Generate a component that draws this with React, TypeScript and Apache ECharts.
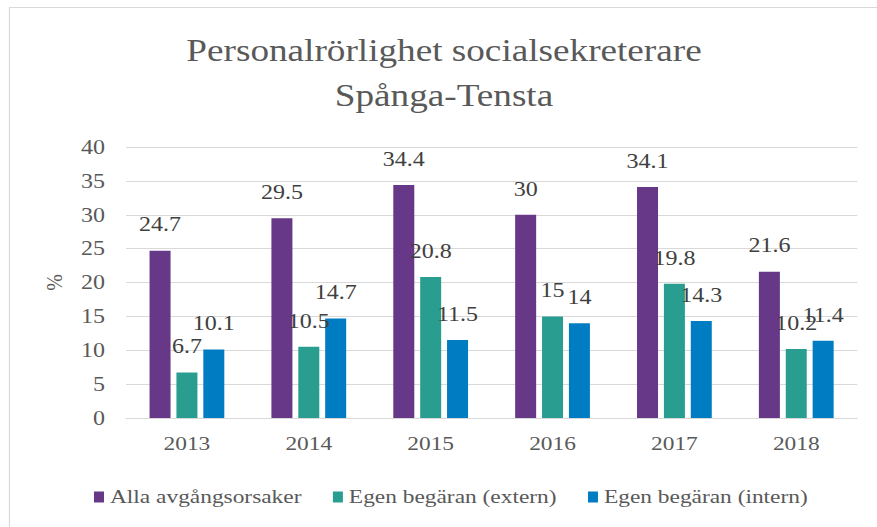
import React, { useEffect, useRef } from "react";
import * as echarts from "echarts";

const years = ["2013", "2014", "2015", "2016", "2017", "2018"];
const allaAvgang = [24.7, 29.5, 34.4, 30, 34.1, 21.6];
const egenExtern = [6.7, 10.5, 20.8, 15, 19.8, 10.2];
const egenIntern = [10.1, 14.7, 11.5, 14, 14.3, 11.4];
const seriesNames = ["Alla avgångsorsaker", "Egen begäran (extern)", "Egen begäran (intern)"];
const colors = ["#673888", "#2A9D91", "#007CC3"];
const yTicks = { min: 0, max: 40, interval: 5 };

const FONT = "Liberation Serif";
// the reference picture is horizontally stretched; reproduce with a scaleX on the chart box
const S = 1.2;
const W = 877 / S;
const H = 527;

export default function App() {
  const ref = useRef<HTMLDivElement>(null);
  useEffect(() => {
    if (!ref.current) return;
    const chart = echarts.init(ref.current, undefined, { renderer: "svg" });
    const mk = (name: string, data: number[], color: string) => ({
      name,
      type: "bar",
      data,
      barWidth: 21 / S,
      barGap: "28%",
      itemStyle: { color },
      label: {
        show: true,
        position: "top",
        distance: 16,
        fontFamily: FONT,
        fontSize: 20,
        color: "#404040",
      },
    });
    chart.setOption({
      animation: false,
      backgroundColor: "#ffffff",
      graphic: [
        {
          type: "rect",
          shape: { x: 9.5 / S, y: 7.5, width: 900, height: 600 },
          style: { fill: "none", stroke: "#D9D9D9", lineWidth: 1 },
          silent: true,
        },
        {
          type: "text",
          x: 444 / S,
          y: 28,
          style: {
            text: "Personalrörlighet socialsekreterare\nSpånga-Tensta",
            fontFamily: FONT,
            fontSize: 31,
            lineHeight: 45,
            fill: "#595959",
            align: "center",
            verticalAlign: "top",
          },
          silent: true,
        },
      ],
      legend: {
        data: seriesNames,
        left: 88 / S,
        top: 482,
        itemWidth: 10 / S,
        itemHeight: 11,
        itemGap: 26,
        icon: "rect",
        textStyle: { fontFamily: FONT, fontSize: 19.5, color: "#595959" },
      },
      grid: { left: 126 / S, right: 20 / S, top: 147, bottom: 109, containLabel: false },
      xAxis: {
        type: "category",
        data: years,
        axisLine: { show: true, lineStyle: { color: "#D9D9D9" } },
        axisTick: { show: false },
        axisLabel: { fontFamily: FONT, fontSize: 19.5, color: "#595959", margin: 16 },
      },
      yAxis: {
        type: "value",
        min: yTicks.min,
        max: yTicks.max,
        interval: yTicks.interval,
        name: "%",
        nameLocation: "middle",
        nameRotate: 90,
        nameGap: 50,
        nameTextStyle: { fontFamily: FONT, fontSize: 20, color: "#595959" },
        axisLine: { show: false },
        axisTick: { show: false },
        splitLine: { lineStyle: { color: "#D9D9D9", width: 1 } },
        axisLabel: { fontFamily: FONT, fontSize: 20, color: "#595959", margin: 21 / S },
      },
      series: [
        mk(seriesNames[0], allaAvgang, colors[0]),
        mk(seriesNames[1], egenExtern, colors[1]),
        mk(seriesNames[2], egenIntern, colors[2]),
      ],
    });
    return () => chart.dispose();
  }, []);
  return (
    <div
      ref={ref}
      style={{
        position: "fixed",
        left: 0,
        top: 0,
        width: W,
        height: H,
        transform: `scaleX(${S})`,
        transformOrigin: "0 0",
      }}
    />
  );
}
